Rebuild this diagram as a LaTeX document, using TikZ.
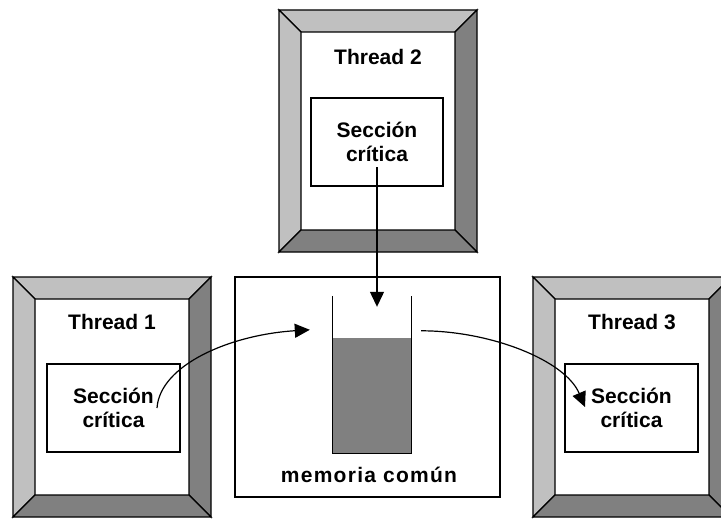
\documentclass[tikz,border=0pt]{standalone}
\usepackage{fontspec}
\setmainfont{Liberation Sans}
\usetikzlibrary{positioning,arrows.meta}

\definecolor{bevellight}{RGB}{192,192,192}
\definecolor{beveldark}{RGB}{128,128,128}

\tikzset{
  threadframe/.style={inner sep=0pt, outer sep=0pt, minimum width=198, minimum height=240},
  bevel/.style={draw=black, line width=1.4pt, line join=miter},
  title/.style={anchor=base, font=\fontsize{21}{24}\selectfont\bfseries},
  secbox/.style={draw, line width=1.3pt, inner sep=0pt, minimum width=133, minimum height=88,
    align=center, font=\fontsize{21}{24}\selectfont\bfseries},
  membox/.style={draw, line width=1.3pt, inner sep=0pt, minimum width=265, minimum height=220},
  fluid/.style={fill=beveldark, inner sep=0pt, minimum width=78, minimum height=115},
  wall/.style={line width=1.3pt},
  flow/.style={line width=1.2pt, -{Triangle[length=15pt,width=14pt]}}
}

% bevelled frame round a thread node
\newcommand{\bevelframe}[1]{%
  \draw[bevel, fill=bevellight] (#1.north west) -- (#1.north east)
    -- ([shift={(-22,22)}]#1.north east) -- ([shift={(22,22)}]#1.north west) -- cycle;
  \draw[bevel, fill=bevellight] (#1.north west) -- ([shift={(22,22)}]#1.north west)
    -- ([shift={(22,-22)}]#1.south west) -- (#1.south west) -- cycle;
  \draw[bevel, fill=beveldark] (#1.north east) -- (#1.south east)
    -- ([shift={(-22,-22)}]#1.south east) -- ([shift={(-22,22)}]#1.north east) -- cycle;
  \draw[bevel, fill=beveldark] (#1.south west) -- (#1.south east)
    -- ([shift={(-22,-22)}]#1.south east) -- ([shift={(22,-22)}]#1.south west) -- cycle;
}

\begin{document}
\begin{tikzpicture}[x=1pt, y=-1pt]
  \useasboundingbox (0,0) rectangle (721,519);
  \clip (0,0) rectangle (721,519);

  % Define nodes
  \node[threadframe, minimum height=242] (t2) at (378,131) {};
  \node[threadframe] (t1) at (112,397) {};
  \node[threadframe] (t3) at (632,397) {};
  \bevelframe{t1}
  \bevelframe{t2}
  \bevelframe{t3}

  \node[title] (t1title) at ([shift={(0,52)}]t1.north) {Thread 1};
  \node[title] (t2title) at ([shift={(0,55)}]t2.north) {Thread 2};
  \node[title] (t3title) at ([shift={(0,52)}]t3.north) {Thread 3};

  \node[secbox] (sec1) at ([shift={(1.5,11)}]t1.center) {Sección\\crítica};
  \node[secbox, minimum width=132] (sec2) at ([shift={(-1,11)}]t2.center) {Sección\\crítica};
  \node[secbox] (sec3) at ([shift={(-0.5,11)}]t3.center) {Sección\\crítica};

  \node[membox] (mem) at (367.5,387) {};
  \node[fluid] (tank) at (372,395.5) {};
  \draw[wall] ([shift={(0,-42)}]tank.north west) -- (tank.south west)
    -- (tank.south east) -- ([shift={(0,-42)}]tank.north east);
  \node[title, font=\fontsize{21}{24}\selectfont\bfseries\addfontfeature{LetterSpace=6}]
    (memtext) at ([shift={(1.5,-15)}]mem.south) {memoria común};

  \coordinate (out1) at ([shift={(43.5,0)}]sec1.center);
  \coordinate (in1) at ([shift={(-23,-8)}]tank.north west);
  \coordinate (out2) at ([shift={(0,25)}]sec2.center);
  \coordinate (in2) at ([shift={(5,-31)}]tank.north);
  \coordinate (out3) at ([shift={(10,-7)}]tank.north east);
  \coordinate (in3) at ([shift={(-46.5,-1)}]sec3.center);

  % Connect the nodes
  \draw[flow] (out1) .. controls ([shift={(3,-43)}]out1) and ([shift={(-80,5)}]in1) .. (in1);
  \draw[flow] (out2) -- (in2);
  \draw[flow] (out3) .. controls ([shift={(69,0)}]out3) and ([shift={(-20,-47)}]in3) .. (in3);
\end{tikzpicture}
\end{document}
